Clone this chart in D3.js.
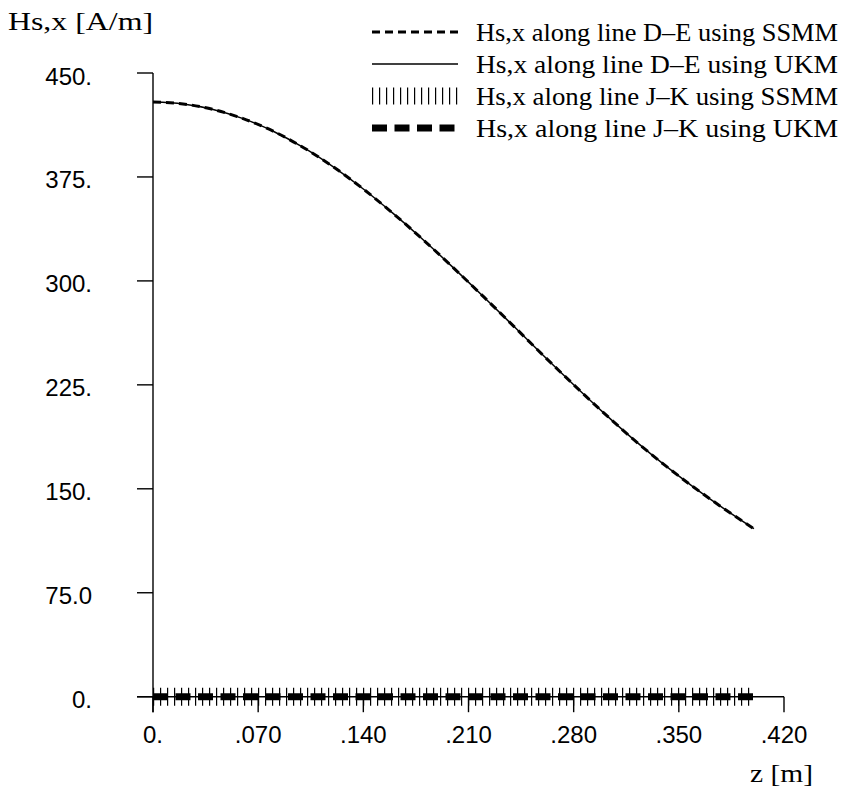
<!DOCTYPE html>
<html>
<head>
<meta charset="utf-8">
<script src="https://cdn.jsdelivr.net/npm/d3@7"></script>
<style>
  html, body { margin: 0; padding: 0; background: #fff; }
  svg { display: block; }
</style>
</head>
<body>
<svg id="chart" width="843" height="791"></svg>
<script>
// Axial position along each line, metres
const zDE = [0, 0.02, 0.04, 0.06, 0.08, 0.10, 0.12, 0.14, 0.16, 0.18, 0.20,
             0.22, 0.24, 0.26, 0.28, 0.30, 0.32, 0.34, 0.36, 0.38, 0.40];
// Hs,x along line D–E (A/m)
const hDE_SSMM = [429, 427.7, 423.7, 417.1, 408.0, 396.3, 382.3, 366.3, 348.5, 329.5, 309.4,
                  288.6, 267.4, 246.0, 225.1, 204.8, 185.5, 167.6, 151.1, 135.7, 121.2];
const hDE_UKM  = [429, 427.7, 423.7, 417.1, 408.0, 396.3, 382.3, 366.3, 348.5, 329.5, 309.4,
                  288.6, 267.4, 246.0, 225.1, 204.8, 185.5, 167.6, 151.1, 135.7, 121.2];
// Hs,x along line J–K (A/m)
const zJK = [0, 0.05, 0.10, 0.15, 0.20, 0.25, 0.30, 0.35, 0.40];
const hJK_SSMM = [0, 0, 0, 0, 0, 0, 0, 0, 0];
const hJK_UKM  = [0, 0, 0, 0, 0, 0, 0, 0, 0];

const xTicks = [0, 0.07, 0.14, 0.21, 0.28, 0.35, 0.42];
const xTickLabels = ["0.", ".070", ".140", ".210", ".280", ".350", ".420"];
const yTicks = [0, 75, 150, 225, 300, 375, 450];
const yTickLabels = ["0.", "75.0", "150.", "225.", "300.", "375.", "450."];

const legendLabels = [
  "Hs,x along line D\u2013E using SSMM",
  "Hs,x along line D\u2013E using UKM",
  "Hs,x along line J\u2013K using SSMM",
  "Hs,x along line J\u2013K using UKM"
];

const svg = d3.select("#chart");
const x = d3.scaleLinear().domain([0, 0.42]).range([153, 784]);
const y = d3.scaleLinear().domain([0, 450]).range([696.7, 73]);

const serif = "'Liberation Serif', 'Times New Roman', serif";
const sans = "'Liberation Sans', Arial, sans-serif";

// Line styles for the four series
const styles = [
  { stroke: 3, dash: "8,5" },            // D–E SSMM
  { stroke: 1.5, dash: null },           // D–E UKM
  { stroke: 18, dash: "1.2,5.8" },       // J–K SSMM (vertical bars)
  { stroke: 7, dash: "15,7.5" }          // J–K UKM (thick dashes)
];

// Axes
const axisG = svg.append("g").attr("stroke", "#000").attr("stroke-width", 1.4).attr("fill", "none");
axisG.append("line").attr("x1", x(0)).attr("x2", x(0)).attr("y1", y(450)).attr("y2", y(0) + 15.5);
axisG.append("line").attr("x1", x(0) - 16).attr("x2", x(0.42)).attr("y1", y(0)).attr("y2", y(0));
yTicks.forEach(v => {
  axisG.append("line").attr("x1", x(0) - 16).attr("x2", x(0)).attr("y1", y(v)).attr("y2", y(v));
});
xTicks.forEach(v => {
  axisG.append("line").attr("x1", x(v)).attr("x2", x(v)).attr("y1", y(0)).attr("y2", y(0) + 15.5);
});

svg.append("g").selectAll("text").data(yTicks).join("text")
  .attr("x", 92).attr("y", d => y(d) + 3)
  .attr("text-anchor", "end").attr("dominant-baseline", "central")
  .attr("font-family", sans).attr("font-size", 24)
  .text((d, i) => yTickLabels[i]);

svg.append("g").selectAll("text").data(xTicks).join("text")
  .attr("x", d => x(d)).attr("y", 734)
  .attr("text-anchor", "middle").attr("dominant-baseline", "central")
  .attr("font-family", sans).attr("font-size", 24)
  .text((d, i) => xTickLabels[i]);

svg.append("text").attr("x", 813).attr("y", 782)
  .attr("text-anchor", "end")
  .attr("font-family", serif).attr("font-size", 25)
  .attr("textLength", 63).attr("lengthAdjust", "spacingAndGlyphs")
  .text("z [m]");

svg.append("text").attr("x", 8).attr("y", 30)
  .attr("font-family", serif).attr("font-size", 25)
  .attr("textLength", 145).attr("lengthAdjust", "spacingAndGlyphs")
  .text("Hs,x [A/m]");

// Data lines
const line = d3.line().curve(d3.curveMonotoneX).x(d => x(d[0])).y(d => y(d[1]));
const series = [
  zJK.map((z, i) => [z, hJK_SSMM[i]]),
  zJK.map((z, i) => [z, hJK_UKM[i]]),
  zDE.map((z, i) => [z, hDE_UKM[i]]),
  zDE.map((z, i) => [z, hDE_SSMM[i]])
];
const seriesStyle = [styles[2], styles[3], styles[1], styles[0]];
series.forEach((pts, i) => {
  const st = seriesStyle[i];
  svg.append("path").attr("d", line(pts))
    .attr("fill", "none").attr("stroke", "#000")
    .attr("stroke-width", st.stroke)
    .attr("stroke-dasharray", st.dash);
});

// Legend
const legendRows = [32, 64, 96, 128];
const lg = svg.append("g");
legendLabels.forEach((lab, i) => {
  const st = styles[i];
  lg.append("line").attr("x1", 372).attr("x2", 458)
    .attr("y1", legendRows[i]).attr("y2", legendRows[i])
    .attr("stroke", "#000").attr("stroke-width", st.stroke === 18 ? 17 : st.stroke)
    .attr("stroke-dasharray", st.dash);
  lg.append("text").attr("x", 476).attr("y", legendRows[i])
    .attr("dominant-baseline", "central")
    .attr("font-family", serif).attr("font-size", 25)
    .attr("textLength", 362).attr("lengthAdjust", "spacingAndGlyphs")
    .text(lab);
});
</script>
</body>
</html>
